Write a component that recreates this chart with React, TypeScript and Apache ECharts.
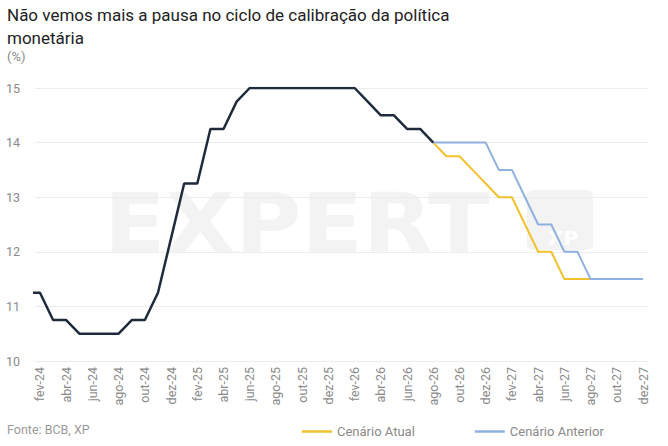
import React, { useEffect, useRef } from 'react';
import * as echarts from 'echarts';

// meses de jan-24 a dez-27
const months = [
  'jan-24', 'fev-24', 'mar-24', 'abr-24', 'mai-24', 'jun-24', 'jul-24', 'ago-24', 'set-24', 'out-24', 'nov-24', 'dez-24',
  'jan-25', 'fev-25', 'mar-25', 'abr-25', 'mai-25', 'jun-25', 'jul-25', 'ago-25', 'set-25', 'out-25', 'nov-25', 'dez-25',
  'jan-26', 'fev-26', 'mar-26', 'abr-26', 'mai-26', 'jun-26', 'jul-26', 'ago-26', 'set-26', 'out-26', 'nov-26', 'dez-26',
  'jan-27', 'fev-27', 'mar-27', 'abr-27', 'mai-27', 'jun-27', 'jul-27', 'ago-27', 'set-27', 'out-27', 'nov-27', 'dez-27',
];

// Selic realizada + trajetória comum até ago-26
const selicHist = [
  11.25, 11.25, 10.75, 10.75, 10.5, 10.5, 10.5, 10.5, 10.75, 10.75, 11.25, 12.25,
  13.25, 13.25, 14.25, 14.25, 14.75, 15, 15, 15, 15, 15, 15, 15,
  15, 15, 14.75, 14.5, 14.5, 14.25, 14.25, 14,
];

// projeções a partir de ago-26
const projStart = 31;
const cenarioAtual = [14, 13.75, 13.75, 13.5, 13.25, 13, 13, 12.5, 12, 12, 11.5, 11.5, 11.5, 11.5, 11.5, 11.5, 11.5];
const cenarioAnterior = [14, 14, 14, 14, 14, 13.5, 13.5, 13, 12.5, 12.5, 12, 12, 11.5, 11.5, 11.5, 11.5, 11.5];

// rótulos exibidos: fev-24, abr-24, ... dez-27
const labelIdx = months.map((_, i) => i).filter((i) => i % 2 === 1);

const App: React.FC = () => {
  const chartRef = useRef<HTMLDivElement>(null);

  useEffect(() => {
    if (!chartRef.current) return;
    const chart = echarts.init(chartRef.current, undefined, { renderer: 'svg' });

    const axisText = { color: '#8a8a8a', fontSize: 12.5, fontFamily: 'Roboto' };

    chart.setOption({
      animation: false,
      textStyle: { fontFamily: 'Roboto' },
      graphic: [
        {
          type: 'text',
          left: 7,
          top: 3,
          style: {
            text: 'Não vemos mais a pausa no ciclo de calibração da política\nmonetária',
            fill: '#222',
            fontSize: 17,
            lineHeight: 23,
            fontFamily: 'Roboto',
          },
        },
        {
          type: 'text',
          left: 7,
          top: 50,
          style: { text: '(%)', fill: '#8a8a8a', fontSize: 13, fontFamily: 'Roboto' },
        },
        {
          type: 'text',
          left: 7,
          top: 423,
          style: { text: 'Fonte: BCB, XP', fill: '#9a9a9a', fontSize: 12.5, fontFamily: 'Roboto' },
        },
        // marca d'água
        {
          type: 'text',
          x: 104,
          y: 182,
          z: -10,
          scaleX: 1.1,
          silent: true,
          style: {
            text: 'EXPERT',
            fill: '#f3f3f3',
            fontSize: 82,
            fontWeight: 'bold',
            fontFamily: 'DejaVu Sans',
          },
        },
        {
          type: 'rect',
          x: 527,
          y: 190,
          z: -10,
          silent: true,
          shape: { width: 66, height: 60, r: 6 },
          style: { fill: '#f3f3f3' },
        },
        {
          type: 'text',
          x: 548,
          y: 228,
          z: -9,
          silent: true,
          style: { text: 'XP', fill: '#ffffff', fontSize: 20, fontWeight: 'bold', fontFamily: 'DejaVu Sans' },
        },
      ],
      legend: {
        data: ['Cenário Atual', 'Cenário Anterior'],
        left: 297,
        top: 420,
        icon: 'rect',
        itemWidth: 30,
        itemHeight: 2.5,
        itemGap: 60,
        textStyle: { color: '#8a8a8a', fontSize: 13, fontFamily: 'Roboto' },
      },
      grid: { left: 35, right: 20, top: 88, height: 273, containLabel: false },
      xAxis: {
        type: 'value',
        min: 0.62,
        max: 47.38,
        axisLine: { show: false },
        axisTick: { show: false },
        splitLine: { show: false },
        axisLabel: {
          ...axisText,
          customValues: labelIdx,
          rotate: 90,
          margin: 6,
          formatter: (v: number) => months[Math.round(v)] ?? '',
        },
      },
      yAxis: {
        type: 'value',
        min: 10,
        max: 15,
        interval: 1,
        axisLine: { show: false },
        axisTick: { show: false },
        splitLine: { lineStyle: { color: '#ececec', width: 1 } },
        axisLabel: { ...axisText, margin: 15 },
      },
      series: [
        {
          name: 'Cenário Atual',
          type: 'line',
          showSymbol: false,
          data: cenarioAtual.map((v, i) => [projStart + i, v]),
          lineStyle: { color: '#f2c12e', width: 2 },
          itemStyle: { color: '#f2c12e' },
        },
        {
          name: 'Cenário Anterior',
          type: 'line',
          showSymbol: false,
          data: cenarioAnterior.map((v, i) => [projStart + i, v]),
          lineStyle: { color: '#8fb1de', width: 2 },
          itemStyle: { color: '#8fb1de' },
        },
        {
          name: 'Selic',
          type: 'line',
          showSymbol: false,
          data: selicHist.map((v, i) => [i, v]),
          lineStyle: { color: '#1f2b3d', width: 2.5 },
          itemStyle: { color: '#1f2b3d' },
        },
      ],
    });

    return () => {
      chart.dispose();
    };
  }, []);

  return (
    <div
      ref={chartRef}
      style={{ position: 'absolute', left: 0, top: 0, width: 668, height: 446, background: '#fff' }}
    />
  );
};

export default App;
